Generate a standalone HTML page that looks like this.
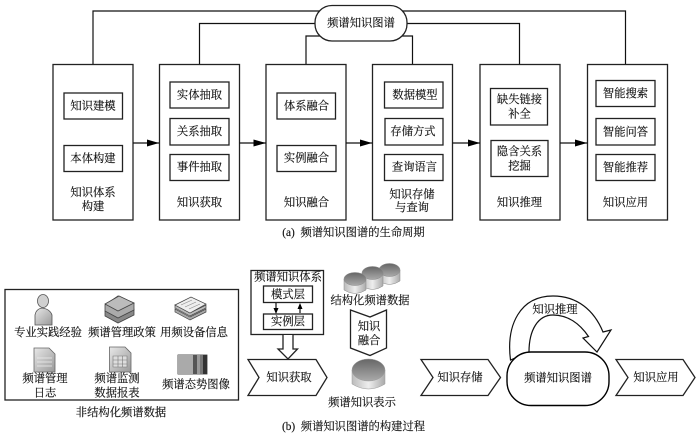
<!DOCTYPE html>
<html><head><meta charset="utf-8"><style>
html,body{margin:0;padding:0;background:#fff;width:700px;height:438px;overflow:hidden}
svg{display:block;filter:blur(.3px)}
text{font-family:"Liberation Serif","Noto Serif CJK SC",serif;font-size:11.3px;fill:#111;stroke:#111;stroke-width:.15;text-anchor:middle;dominant-baseline:central}
.b{fill:#fff;stroke:#222;stroke-width:1.3}
.l{fill:none;stroke:#111;stroke-width:1.2}
.h{fill:#000;stroke:none}
</style></head><body>
<svg width="700" height="438" viewBox="0 0 700 438" xmlns="http://www.w3.org/2000/svg">
<defs>
<linearGradient id="dt" x1="0" y1="0" x2="0" y2="1"><stop offset="0" stop-color="#666"/><stop offset="1" stop-color="#aaa"/></linearGradient>
<linearGradient id="db" x1="0" y1="0" x2="1" y2="0"><stop offset="0" stop-color="#bbb"/><stop offset=".5" stop-color="#eee"/><stop offset="1" stop-color="#aaa"/></linearGradient>
<linearGradient id="pp" x1="0" y1="0" x2="1" y2="1"><stop offset="0" stop-color="#e8e8e8"/><stop offset="1" stop-color="#999"/></linearGradient>
</defs>
<g>
<!-- connectors a -->
<path class="l" d="M93 64V11H325M199.500 64V23.500H320M306 64V36H325M397 11H625.500V64M400 23.500H519.500V64M400 36H412.500V64"/>
<rect class="b" x="315" y="5.500" width="92" height="35.500" rx="17"/>
<text x="361" y="23.500">频谱知识图谱</text>
<!-- main boxes -->
<rect class="b" x="53" y="64.500" width="80" height="155.500"/>
<rect class="b" x="159.500" y="64.500" width="80" height="155.500"/>
<rect class="b" x="266" y="64.500" width="80" height="155.500"/>
<rect class="b" x="372.500" y="64.500" width="80" height="155.500"/>
<rect class="b" x="480" y="64.500" width="80" height="155.500"/>
<rect class="b" x="587.500" y="64.500" width="80" height="155.500"/>
<!-- arrows -->
<path class="l" d="M133 143H159M239.500 143H266M346 143H372.500M452.500 143H480M560 143H587.500"/>
<path class="h" d="M147 139.500L159 143L147 146.500ZM253.500 139.500L266 143L253.500 146.500ZM360 139.500L372 143L360 146.500ZM468 139.500L480 143L468 146.500ZM575 139.500L587 143L575 146.500Z"/>
<!-- box 1 -->
<rect class="b" x="64" y="93" width="58.500" height="26"/><text x="93" y="106.500">知识建模</text>
<rect class="b" x="64" y="145.500" width="58.500" height="26"/><text x="93" y="159">本体构建</text>
<text x="93" y="193">知识体系</text><text x="93" y="207">构建</text>
<!-- box 2 -->
<rect class="b" x="170" y="82" width="59" height="26"/><text x="199.500" y="95.500">实体抽取</text>
<rect class="b" x="170" y="118.500" width="59" height="26.500"/><text x="199.500" y="132">关系抽取</text>
<rect class="b" x="170" y="154.500" width="59" height="26"/><text x="199.500" y="167.500">事件抽取</text>
<text x="199.500" y="203">知识获取</text>
<!-- box 3 -->
<rect class="b" x="277" y="93" width="58.500" height="26"/><text x="306.500" y="106.500">体系融合</text>
<rect class="b" x="277" y="145.500" width="59" height="26"/><text x="306.500" y="158.500">实例融合</text>
<text x="306.500" y="203">知识融合</text>
<!-- box 4 -->
<rect class="b" x="384.500" y="82" width="58.500" height="26"/><text x="415" y="95.500">数据模型</text>
<rect class="b" x="385" y="118.500" width="58" height="26.500"/><text x="413" y="132">存储方式</text>
<rect class="b" x="384.500" y="154.500" width="58.500" height="26"/><text x="414.500" y="167.500">查询语言</text>
<text x="412" y="195">知识存储</text><text x="412" y="208">与查询</text>
<!-- box 5 -->
<rect class="b" x="490.500" y="88.500" width="57" height="36.500"/><text x="519.500" y="100">缺失链接</text><text x="519.500" y="114.500">补全</text>
<rect class="b" x="491" y="140.500" width="57" height="36"/><text x="519.500" y="152">隐含关系</text><text x="519.500" y="166.500">挖掘</text>
<text x="519.500" y="203">知识推理</text>
<!-- box 6 -->
<rect class="b" x="596" y="80.500" width="59" height="26"/><text x="625.500" y="94">智能搜索</text>
<rect class="b" x="596" y="118.500" width="59" height="26.500"/><text x="625.500" y="132.500">智能问答</text>
<rect class="b" x="596" y="154.500" width="59" height="26"/><text x="625.500" y="168">智能推荐</text>
<text x="625.500" y="203">知识应用</text>
<text x="353.500" y="233" xml:space="preserve">(a)  频谱知识图谱的生命周期</text>

<!-- unstructured panel -->
<rect class="b" x="5" y="289.500" width="233.500" height="110.500" style="stroke-width:1.300"/>
<!-- person -->
<ellipse cx="43" cy="301" rx="5.500" ry="6.500" fill="#d0d0d0" stroke="#555" stroke-width=".8"/>
<path d="M35 325V315Q36 309 42 308Q50 309 52 315V325Z" fill="url(#pp)" stroke="#555" stroke-width=".8"/>
<!-- stack 1 -->
<path d="M105 311L105 316L118 323L134 315V309L118 301Z" fill="#888" stroke="#444" stroke-width=".8"/>
<path d="M105 305L105 311L118 318L134 310V303L118 296Z" fill="#aaa" stroke="#444" stroke-width=".8"/>
<path d="M105 304L119 296L134 303L118 311Z" fill="#bbb" stroke="#444" stroke-width=".8"/>
<!-- stack 2 -->
<path d="M175 312L190 320L206 312L206 309L190 317L175 309Z" fill="#aaa" stroke="#444" stroke-width=".7"/>
<path d="M175 308L190 316L206 308L206 305L190 313L175 305Z" fill="#bbb" stroke="#444" stroke-width=".7"/>
<path d="M175 305L191 297L206 304L190 313Z" fill="#eee" stroke="#444" stroke-width=".7"/>
<path d="M181 305L192 300M185 307L196 302M189 309L200 304" stroke="#888" stroke-width=".6"/>
<!-- doc 1 -->
<path d="M34 348H49L55 354V372H34Z" fill="url(#pp)" stroke="#666" stroke-width=".8"/>
<path d="M37 358H52M37 362H52M37 366H52" stroke="#eee" stroke-width=".8"/>
<!-- doc 2 -->
<path d="M109.500 347H125L131 353V372H109.500Z" fill="url(#pp)" stroke="#666" stroke-width=".8"/>
<path d="M113 356H127V367H113ZM113 360H127M113 364H127M118 356V367M122.500 356V367" fill="#ddd" stroke="#777" stroke-width=".6"/>
<!-- image -->
<rect x="178" y="355" width="29" height="19" fill="#999" stroke="#333" stroke-width=".8"/>
<rect x="178" y="355" width="15" height="19" fill="#aaa"/>
<rect x="193" y="355" width="4" height="19" fill="#555"/>
<rect x="197" y="355" width="3" height="19" fill="#999"/>
<rect x="200" y="355" width="3" height="19" fill="#777"/>
<rect x="203" y="355" width="4" height="19" fill="#333"/>
<text x="48" y="333">专业实践经验</text>
<text x="122" y="333">频谱管理政策</text>
<text x="194" y="333">用频设备信息</text>
<text x="45" y="379">频谱管理</text><text x="45" y="393.500">日志</text>
<text x="117" y="379">频谱监测</text><text x="117" y="393.500">数据报表</text>
<text x="196" y="385">频谱态势图像</text>
<text x="121" y="413">非结构化频谱数据</text>
<text x="353.500" y="427" xml:space="preserve">(b)  频谱知识图谱的构建过程</text>

<!-- ontology box -->
<rect class="b" x="251" y="270.500" width="72.500" height="64"/>
<text x="288" y="277.500">频谱知识体系</text>
<rect class="b" x="263.500" y="286" width="49" height="16.500"/><text x="288" y="295">模式层</text>
<rect class="b" x="263.500" y="314" width="49" height="15.500"/><text x="288" y="322">实例层</text>
<path class="l" d="M276 303V308M300 309V313"/>
<path class="h" d="M273.500 308H278.500L276 314ZM297.500 309H302.500L300 303Z"/>
<path class="b" d="M283 335V349H278L288 359L297.500 349H293V335"/>
<!-- chevrons -->
<path class="b" d="M248 359.500H316L327 377.500L316 395.500H248L259 377.500Z"/><text x="289" y="378">知识获取</text>
<path class="b" d="M421 359.500H488L500.500 377.500L488 395.500H421L433 377.500Z"/><text x="460" y="378">知识存储</text>
<path class="b" d="M616 359.500H683L695 377.500L683 395.500H616L628 377.500Z"/><text x="656" y="378">知识应用</text>
<!-- curved arrow -->
<path d="M510.500 360C506 325 520 296 553 296C577 296 594 310 603 332L611 330L597 352L583 338L588.500 336.500C580 324 568 315 553 315C538 315 529 330 529 352Z" fill="#fff" stroke="#111" stroke-width="1.200"/>
<rect x="507" y="352" width="102" height="53.500" rx="24" fill="#fff" stroke="#000" stroke-width="1.400"/>
<text x="558" y="378.500">频谱知识图谱</text>
<text x="555" y="310">知识推理</text>
<!-- cylinders -->
<g stroke="#888" stroke-width=".5">
<path d="M379 270V281Q389.500 288 400 281V270Z" fill="url(#db)"/><ellipse cx="389.500" cy="270" rx="10.500" ry="6.500" fill="url(#dt)"/>
<path d="M362 273V286Q372.500 293 383 286V273Z" fill="url(#db)"/><ellipse cx="372.500" cy="273" rx="10.500" ry="6.500" fill="url(#dt)"/>
<path d="M344 279V290Q355 297 366 290V279Z" fill="url(#db)"/><ellipse cx="355" cy="279" rx="11" ry="6.500" fill="url(#dt)"/>
</g>
<text x="370" y="301">结构化频谱数据</text>
<path class="b" d="M350.500 310L370 317L386.500 310V348L370 355.500L350.500 348Z"/>
<text x="369" y="327">知识</text><text x="369" y="341">融合</text>
<path d="M352 370V384Q368.500 394 385 384V370Z" fill="url(#db)" stroke="#999" stroke-width=".5"/>
<ellipse cx="368.500" cy="370" rx="16.500" ry="11" fill="url(#dt)" stroke="#999" stroke-width=".5"/>
<text x="362" y="403">频谱知识表示</text>
</g>
</svg>
</body></html>
